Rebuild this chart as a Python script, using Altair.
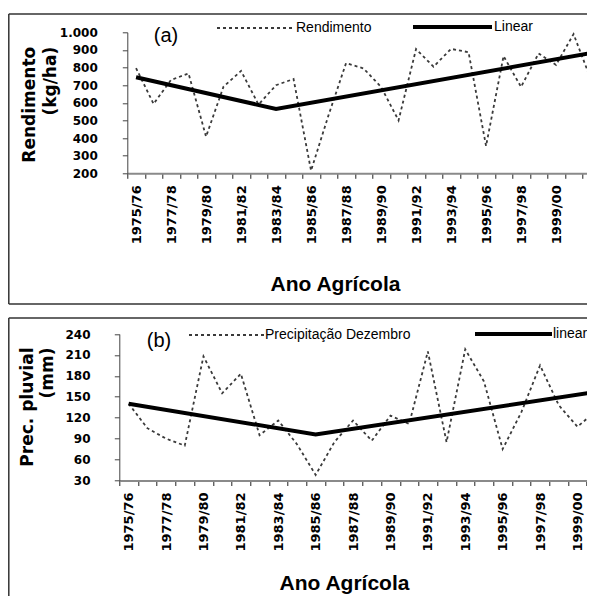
import json
import altair as alt
import pandas as pd

# ---------------- data ----------------
anos_a = ["1975/76", "1976/77", "1977/78", "1978/79", "1979/80", "1980/81", "1981/82",
          "1982/83", "1983/84", "1984/85", "1985/86", "1986/87", "1987/88", "1988/89",
          "1989/90", "1990/91", "1991/92", "1992/93", "1993/94", "1994/95", "1995/96",
          "1996/97", "1997/98", "1998/99", "1999/00", "2000/01", "2001/02"]
rendimento = [797, 594, 730, 766, 408, 692, 781, 590, 700, 735, 215, 530, 825, 795,
              690, 500, 905, 805, 906, 887, 355, 865, 690, 880, 815, 990, 730]
linear_a_anos = ["1975/76", "1983/84", "2001/02"]
linear_a = [745, 565, 882]

anos_b = ["1975/76", "1976/77", "1977/78", "1978/79", "1979/80", "1980/81", "1981/82",
          "1982/83", "1983/84", "1984/85", "1985/86", "1986/87", "1987/88", "1988/89",
          "1989/90", "1990/91", "1991/92", "1992/93", "1993/94", "1994/95", "1995/96",
          "1996/97", "1997/98", "1998/99", "1999/00", "2000/01"]
precipitacao = [140, 105, 90, 80, 208, 155, 183, 95, 116, 82, 38, 85, 116, 87,
                123, 111, 215, 85, 218, 172, 75, 128, 195, 138, 107, 130]
linear_b_anos = ["1975/76", "1985/86", "2000/01"]
linear_b = [140, 96, 157]

rotulos = ["1975/76", "1977/78", "1979/80", "1981/82", "1983/84", "1985/86", "1987/88",
           "1989/90", "1991/92", "1993/94", "1995/96", "1997/98", "1999/00"]

ticks_a = [200, 300, 400, 500, 600, 700, 800, 900, 1000]
ticks_b = [30, 60, 90, 120, 150, 180, 210, 240]

COR_SERIE = "#3a3a3a"
DASH = [3, 3]

# ---------------- layout (pixels, relative to the origin of panel (a)'s plot) ----------------
W, H = 459.7, 448.2          # drawing area (right/bottom parts are cropped as in the source)


def one():
    return pd.DataFrame({"k": [0]})


def regra(x, x2=None, y=None, y2=None, **kw):
    enc = {"x": alt.value(x), "y": alt.value(y)}
    if x2 is not None:
        enc["x2"] = alt.value(x2)
    if y2 is not None:
        enc["y2"] = alt.value(y2)
    return alt.Chart(one()).mark_rule(clip=False, **kw).encode(**enc)


def texto(t, x, y, **kw):
    return alt.Chart(pd.DataFrame({"t": [t]})).mark_text(clip=False, **kw).encode(
        x=alt.value(x), y=alt.value(y), text="t:N")


def painel(anos, vals, lin_anos, lin_vals, y_dom, y_vals, y_title, y_expr, P):
    rot_expr = "indexof(" + json.dumps(rotulos) + ", datum.value) >= 0 ? datum.label : ''"
    x = alt.X("ano:N", sort=anos, title="Ano Agrícola",
              scale=alt.Scale(type="band", domain=anos, range=P["xr"],
                              paddingInner=0, paddingOuter=0),
              bandPosition=0.5,
              axis=alt.Axis(orient="bottom", offset=P["xoff"], values=anos,
                            labelExpr=rot_expr, labelOverlap=False,
                            tickBand="extent", labelAngle=270,
                            labelFont="DejaVu Sans", labelFontWeight="bold",
                            labelFontSize=13, labelColor="black",
                            labelPadding=6.5, tickSize=5, tickColor="#222", tickWidth=1,
                            domainColor="#8a8a8a", domainWidth=2,
                            titleFont="Liberation Sans", titleFontSize=21,
                            titleFontWeight="bold", titleColor="black",
                            titleX=P["xtx"], titleY=P["xty"], titleAlign="center",
                            titleBaseline="alphabetic"))
    y = alt.Y("valor:Q", scale=alt.Scale(domain=y_dom, range=P["yr"], nice=False, zero=False),
              axis=alt.Axis(orient="left", offset=P["yoff"], values=y_vals, labelExpr=y_expr,
                            grid=False, title=y_title,
                            labelFont="DejaVu Sans", labelFontWeight="bold",
                            labelFontSize=12, labelColor="black",
                            labelPadding=P["ylpad"], tickSize=5, tickColor="#444",
                            domainColor="#444", domainWidth=1,
                            titleFont="DejaVu Sans", titleFontWeight="bold",
                            titleFontSize=17, titleColor="black", titleAngle=270,
                            titleAlign="right", titleBaseline="middle",
                            titleX=P["ytx"], titleY=P["yty"],
                            titleLineHeight=P["ylh"]))
    df_s = pd.DataFrame({"ano": anos, "valor": vals, "ordem": list(range(len(anos)))})
    df_l = pd.DataFrame({"ano": lin_anos, "valor": lin_vals,
                         "ordem": [anos.index(a) for a in lin_anos]})
    serie = alt.Chart(df_s).mark_line(clip=True, strokeCap="butt", color=COR_SERIE,
                                      strokeWidth=1.8, strokeDash=DASH).encode(
        x=x, y=y, order=alt.Order("ordem:Q"))
    tend = alt.Chart(df_l).mark_line(clip=True, strokeCap="butt", color="black",
                                     strokeWidth=4).encode(
        x=x, y=y, order=alt.Order("ordem:Q"))
    return alt.layer(serie, tend)


def enfeites(nomes, letra, D):
    c = []
    bs = dict(color="#333", strokeWidth=1.5)
    c.append(regra(-118.5, 480, D["top"], **bs))
    c.append(regra(-118.5, None, D["top"], D["bot"], **bs))
    if D["bottom_line"]:
        c.append(regra(-118.5, 480, D["bot"], **bs))
    lg = D["leg"]
    c.append(regra(lg[0], lg[1], lg[2], color=COR_SERIE, strokeWidth=1.8, strokeDash=DASH))
    c.append(texto(nomes[0], lg[3], lg[2], font="Liberation Sans", fontSize=14,
                   color="black", align="left", baseline="middle"))
    c.append(regra(lg[4], lg[5], lg[6], color="black", strokeWidth=4))
    c.append(texto(nomes[1], lg[7], lg[6], font="Liberation Sans", fontSize=14,
                   color="black", align="left", baseline="middle"))
    c.append(texto(letra, D["tx"], D["ty"], font="Liberation Sans", fontSize=20,
                   color="black", align="center", baseline="middle"))
    return c


PA = dict(xr=[0, 472.5], yr=[141, 0], xoff=141 - H, yoff=0, xtx=207.7, xty=117.5,
          ylpad=25, ytx=-97.8, yty=14, ylh=21)
PB = dict(xr=[-8, 478.2], yr=[448.2, 301.7], xoff=0, yoff=8, xtx=216.7, xty=108.5,
          ylpad=24.3, ytx=-92.3, yty=314.7, ylh=20)

pa = painel(anos_a, rendimento, linear_a_anos, linear_a, [200, 1000], ticks_a,
            ["Rendimento", "(kg/ha)"], "datum.value == 1000 ? '1.000' : datum.label", PA)
pb = painel(anos_b, precipitacao, linear_b_anos, linear_b, [30, 240], ticks_b,
            ["Prec. pluvial", "(mm)"], "datum.label", PB)

DA = dict(top=-18.3, bot=271.7, bottom_line=True,
          leg=[89.7, 165.7, -4.3, 168.7, 285.7, 364.7, -5.3, 366.7], tx=38.7, ty=3.7)
DB = dict(top=285.7, bot=600, bottom_line=False,
          leg=[61.7, 136.7, 302.7, 137.7, 347.7, 424.7, 301.7, 425.7], tx=31.7, ty=308.7)

deco = enfeites(["Rendimento", "Linear"], "(a)", DA) + \
    enfeites(["Precipitação Dezembro", "linear"], "(b)", DB)

chart = alt.layer(pa, pb, *deco).resolve_scale(
    x="independent", y="independent"
).properties(
    width=W, height=H,
    autosize=alt.AutoSizeParams(type="none"),
    padding={"left": 119.3, "top": 24.3, "right": 0, "bottom": 115.5},
    background="white",
).configure_view(strokeWidth=0)

chart.save("out.html", embed_options={"renderer": "svg", "actions": False})
